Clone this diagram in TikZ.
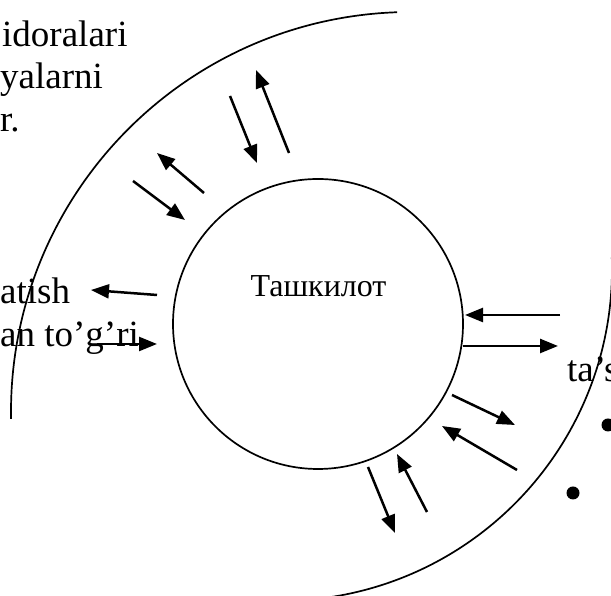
\documentclass[tikz,border=0pt]{standalone}
\usepackage{fontspec}
\setmainfont{Liberation Serif}
\usetikzlibrary{arrows.meta,positioning}

\begin{document}
\begin{tikzpicture}[
    x=1pt, y=1pt,
    org/.style={draw, circle, line width=1.7pt, minimum size=290pt,
                inner sep=0pt},
    ring/.style={line width=1.7pt},
    arr/.style={-{Triangle[length=18pt, width=14pt]}, line width=2.5pt},
    sidetext/.style={font=\fontsize{37}{44}\selectfont, inner sep=0pt,
                     anchor=base west},
    dot/.style={circle, fill, inner sep=0pt, minimum size=13pt}
  ]
  \useasboundingbox (0,0) rectangle (611,596);
  \clip (0,0) rectangle (611,596);

  % environment rings
  \draw[ring] (411,184) ++(92:400pt) arc[start angle=92, end angle=181, radius=400pt];
  \draw[ring] (280,327) ++(2:332pt) arc[start angle=2, end angle=-82, radius=332pt];

  % organisation
  \node[org] (org) at (318,272) {};
  \node[font=\fontsize{32}{38}\selectfont, anchor=base, inner sep=0pt]
    (orgname) at (318.5,299) {Ташкилот};

  % flows in and out
  \foreach \n/\sx/\sy/\tx/\ty in {
      a/133/415/185/376, b/204/403/157/443,
      c/230/500/257/433, d/289/443/256/526,
      e/157/301/91/306,  f/97/252/157/252,
      g/560/281/465/281, h/463/250/558/250,
      i/452/201/515/171, j/517/126/442/170,
      k/427/84/397/142,  l/368/129/395/63}{
    \coordinate (\n-s) at (\sx,\sy);
    \coordinate (\n-t) at (\tx,\ty);
    \draw[arr] (\n-s) -- (\n-t);
  }

  % surrounding text
  \node[sidetext] (t1) at (2,549) {idoralari};
  \node[sidetext] (t2) at (0,507) {yalarni};
  \node[sidetext] (t3) at (0,464) {r.};
  \node[sidetext] (t4) at (0,292) {atish};
  \node[sidetext] (t5) at (0,249) {an to’g’ri};
  \node[sidetext] (t6) at (567,214) {ta’s};
  \node[dot] (p1) at (608,171) {};
  \node[dot] (p2) at (573,103) {};
\end{tikzpicture}
\end{document}
